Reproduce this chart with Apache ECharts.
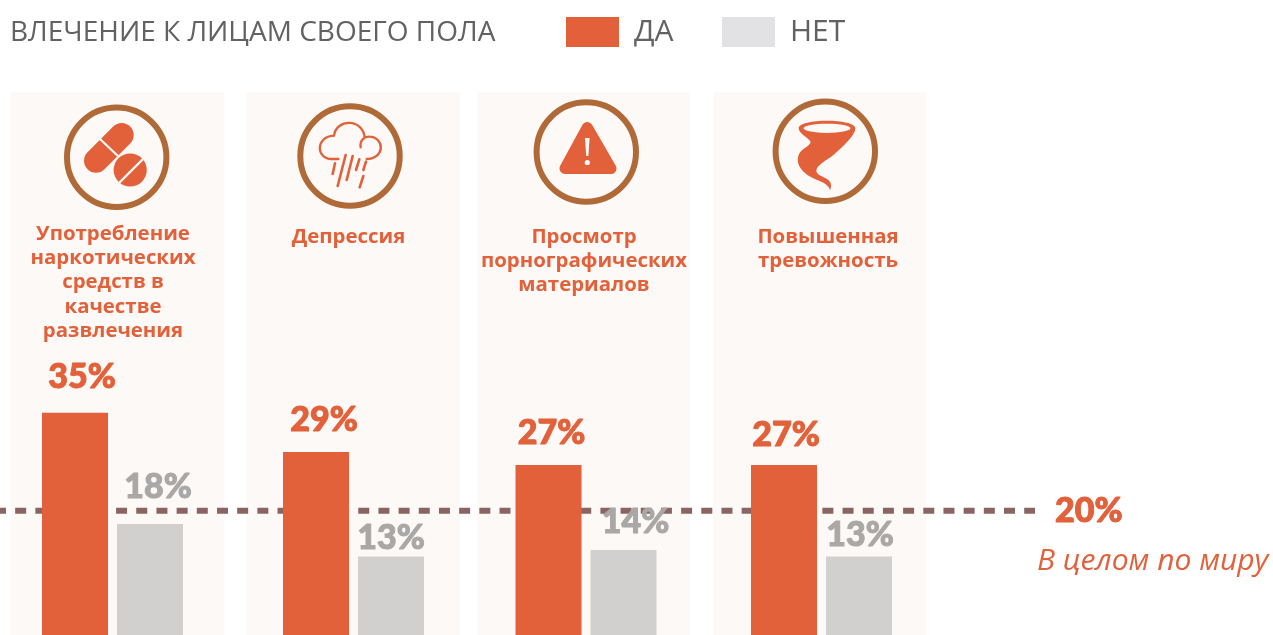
<!DOCTYPE html>
<html><head><meta charset="utf-8">
<style>html,body{margin:0;padding:0;background:#fff}#c{width:1273px;height:635px}</style>
<script src="https://cdn.jsdelivr.net/npm/echarts@6/dist/echarts.min.js"></script>
</head><body><div id="c"></div>
<script>
const titleText = 'ВЛЕЧЕНИЕ К ЛИЦАМ СВОЕГО ПОЛА';
const categories = ['Употребление\nнаркотических\nсредств в\nкачестве\nразвлечения','Депрессия','Просмотр\nпорнографических\nматериалов','Повышенная\nтревожность'];
const seriesNames = ['ДА','НЕТ'];
const yesValues = [35,29,27,27];
const noValues = [18,13,14,13];
const worldValue = 20;
const worldLabel = 'В целом по миру';

// layout only
const groupLeft = [37.5,278.5,511,746.5];
const yesLabelOffset = [[7,1],[8,5],[3,5],[2,7]];
const noLabelOffset = [[8,0],[0,18],[12,9],[1,15]];
const panels = [[11,213],[246.5,213.5],[477,213],[713,213]];
const catX = [113,348.5,584,828];
const catY = [234,237,237,237];
const RED='#e2613a', GREY='#d1d0ce', BG='#fdf9f6', BROWN='#b06a38', LINE='#8a6462';

echarts.graphic.registerShape('icCloud', echarts.graphic.extendPath(
 'M1015 207 H995 C948 207 945 140 1002 137 C1008 85 1090 85 1094 143 M1082 172 C1078 150 1095 139 1108 140 C1156 142 1154 207 1100 207'));
echarts.graphic.registerShape('icTornado', echarts.graphic.extendPath(
 'M986 115 C986 85 1156 85 1156 115 C1156 135 1125 165 1090 195 C1065 215 1030 230 1042 250 C1055 265 1095 265 1080 301 C1075 280 1050 275 1030 265 C1000 250 975 225 986 195 C992 175 1020 170 1022 155 C1010 140 986 130 986 115 Z'));

const W = [];
panels.forEach(p=>W.push({type:'rect',shape:{x:p[0],y:92,width:p[1],height:543},style:{fill:BG},silent:true}));
[[116.7,157.3],[350,156],[586.3,152],[825.3,151.3]].forEach(c=>W.push({type:'circle',shape:{cx:c[0],cy:c[1],r:49.7},style:{fill:'none',stroke:BROWN,lineWidth:6},silent:true}));
W.push({type:'line',shape:{x1:121.7,y1:135,x2:96,y2:160.7},style:{stroke:RED,lineWidth:24,lineCap:'round'}});
W.push({type:'line',shape:{x1:100,y1:139,x2:120,y2:158},style:{stroke:BG,lineWidth:2.2}});
W.push({type:'circle',shape:{cx:130.2,cy:170,r:16.6},style:{fill:RED}});
W.push({type:'line',shape:{x1:119,y1:183,x2:144,y2:158},style:{stroke:BG,lineWidth:2.4}});
W.push({type:'icCloud',scaleX:1/3,scaleY:1/3,x:0,y:90,style:{fill:'none',stroke:RED,lineWidth:7,lineCap:'round'}});
[[1005,220,998,252],[1037,195,1013,288],[1058,198,1040,270],[1078,208,1068,240],[1098,215,1090,240],[1090,258,1079,292]].forEach(l=>W.push({type:'line',shape:{x1:l[0]/3,y1:90+l[1]/3,x2:l[2]/3,y2:90+l[3]/3},style:{stroke:RED,lineWidth:2.6,lineCap:'round'}}));
W.push({type:'polygon',shape:{points:[[587.3,127.5],[565,168.5],[611,168.5]]},style:{fill:RED,stroke:RED,lineWidth:11,lineJoin:'round'}});
W.push({type:'polygon',shape:{points:[[585,138],[589.6,138],[588.4,156],[586.2,156]]},style:{fill:BG}});
W.push({type:'circle',shape:{cx:587.3,cy:162.5,r:2.6},style:{fill:BG}});
W.push({type:'icTornado',scaleX:1/3,scaleY:1/3,x:470,y:90,style:{fill:RED}});
W.push({type:'ellipse',shape:{cx:470+1071/3,cy:90+115/3,rx:23.5,ry:4.6},style:{fill:BG}});
categories.forEach((t,i)=>W.push({type:'text',x:catX[i],y:catY[i]-12,style:{text:t,fill:RED,font:'700 20.4px "Open Sans"',textAlign:'center',textVerticalAlign:'top',lineHeight:24.2}}));
W.push({type:'text',x:1037,y:561,style:{text:worldLabel,fill:RED,font:'italic 400 30px "Open Sans"',textAlign:'left',textVerticalAlign:'middle'}});

const yTop=249.5, yH=392;
const grids=[{left:0,width:1035,top:yTop,height:yH,outerBoundsMode:'none'}];
const xAxes=[{gridIndex:0,type:'value',min:0,max:1,show:false}];
const yAxes=[{gridIndex:0,type:'value',min:0,max:60,show:false}];
const numFont={fontFamily:'Lato',fontWeight:900,fontSize:34,textBorderWidth:1};
const series=[{type:'line',xAxisIndex:0,yAxisIndex:0,z:1,name:worldLabel,showSymbol:false,silent:true,
  data:[[0,worldValue],[1,worldValue]],
  lineStyle:{color:LINE,width:6,type:[11,9.18],dashOffset:5,cap:'butt'},
  endLabel:{show:true,formatter:worldValue+'%',color:RED,distance:20,...numFont,textBorderColor:RED}}];

categories.forEach((c,i)=>{
  grids.push({left:groupLeft[i],width:150,top:yTop,height:yH,outerBoundsMode:'none'});
  xAxes.push({gridIndex:i+1,type:'category',data:seriesNames,show:false});
  yAxes.push({gridIndex:i+1,type:'value',min:0,max:60,show:false});
  const mk=(name,idx,v,off,col,lab)=>({type:'bar',name,xAxisIndex:i+1,yAxisIndex:i+1,stack:'g'+i,barWidth:66,z:3,
    itemStyle:{color:col},
    data: idx===0?[{value:v,label:{offset:off}},'-']:['-',{value:v,label:{offset:off}}],
    label:{show:true,position:'top',distance:20,formatter:'{c}%',color:lab,...numFont,textBorderColor:lab}});
  series.push(mk(seriesNames[0],0,yesValues[i],yesLabelOffset[i],RED,RED));
  series.push(mk(seriesNames[1],1,noValues[i],noLabelOffset[i],GREY,'#a9a8a7'));
});

const chart=echarts.init(document.getElementById('c'),null,{renderer:'canvas'});
chart.setOption({
  animation:false,
  title:{text:titleText,left:10,top:13,padding:[6,0,0,0],textStyle:{color:'#616264',fontFamily:'Open Sans',fontWeight:400,fontSize:28}},
  legend:{left:566,top:17,padding:0,itemWidth:53,itemHeight:30,itemGap:48.5,selectedMode:false,icon:'rect',
    data:[{name:'ДА',itemStyle:{color:RED}},{name:'НЕТ',itemStyle:{color:'#e2e2e4'}}],
    textStyle:{color:'#616264',fontFamily:'Open Sans',fontSize:30,padding:[0,0,0,10]}},
  grid:grids,xAxis:xAxes,yAxis:yAxes,series,graphic:{elements:W}
});
</script></body></html>
